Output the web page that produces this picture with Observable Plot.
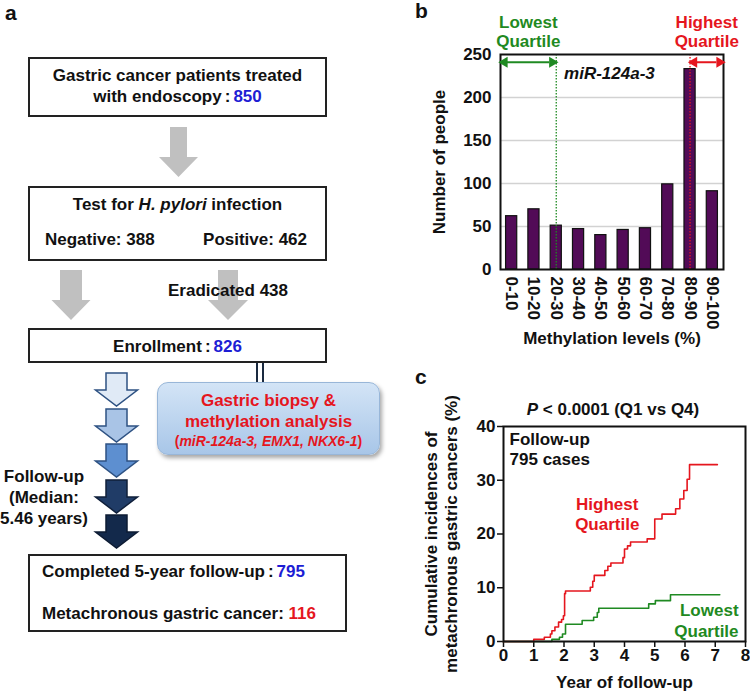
<!DOCTYPE html>
<html><head><meta charset="utf-8">
<script src="https://cdn.jsdelivr.net/npm/d3@7"></script>
<script src="https://cdn.jsdelivr.net/npm/@observablehq/plot@0.6"></script>
<style>
html,body{margin:0;padding:0;background:#fff;}
#root{position:relative;width:750px;height:697px;overflow:hidden;font-family:"Liberation Sans",Arial,sans-serif;font-weight:bold;color:#111;}
.t{position:absolute;white-space:nowrap;font-size:17px;line-height:20px;}
.c{text-align:center;}
.box{position:absolute;box-sizing:border-box;border:2px solid #222;background:#fff;}
.lbl{position:absolute;font-size:21px;line-height:21px;}
.blue{color:#1d1dd4}.red{color:#e5161e}
.rbox{position:absolute;left:157px;top:382px;width:223px;height:73px;box-sizing:border-box;border-radius:11px;
 background:linear-gradient(#d3e4f6,#a8c6e8);border:1px solid #98b6d8;box-shadow:2px 3px 4px rgba(0,0,0,0.35);}
#pb{position:absolute;left:400px;top:0;}
#pc{position:absolute;left:400px;top:370px;}
</style></head><body><div id="root">
<svg id="flow" style="position:absolute;left:0;top:0" width="400" height="697"></svg>

<div class="lbl" style="left:5px;top:2px">a</div>
<div class="lbl" style="left:415px;top:0px">b</div>
<div class="lbl" style="left:415px;top:366px">c</div>

<div class="box" style="left:28px;top:57px;width:299px;height:60px"></div>
<div class="t c" style="left:28px;width:299px;top:66px">Gastric cancer patients treated</div>
<div class="t c" style="left:28px;width:299px;top:87px">with endoscopy<span style="margin:0 3px">:</span><span class="blue">850</span></div>

<div class="box" style="left:28px;top:186px;width:299px;height:75px"></div>
<div class="t c" style="left:28px;width:299px;top:195px">Test for <i>H. pylori</i> infection</div>
<div class="t" style="left:45px;top:230px">Negative: 388</div>
<div class="t" style="right:443px;top:230px">Positive: 462</div>

<div class="t" style="left:168px;top:281px">Eradicated 438</div>

<div class="box" style="left:28px;top:328px;width:299px;height:35px"></div>
<div class="t c" style="left:28px;width:299px;top:337px">Enrollment<span style="margin:0 3px">:</span><span class="blue">826</span></div>

<div class="rbox"></div>
<div class="t c red" style="left:157px;width:223px;top:391px">Gastric biopsy &amp;</div>
<div class="t c red" style="left:157px;width:223px;top:412px">methylation analysis</div>
<div class="t c red" style="left:157px;width:223px;top:432px;font-size:14px;line-height:18px">(<i>miR-124a-3, EMX1, NKX6-1</i>)</div>

<div class="t c" style="left:0;width:88px;top:467px">Follow-up</div>
<div class="t c" style="left:0;width:88px;top:488px">(Median:</div>
<div class="t c" style="left:0;width:88px;top:509px">5.46 years)</div>

<div class="box" style="left:28px;top:554px;width:319px;height:78px"></div>
<div class="t" style="left:42px;top:562px">Completed 5-year follow-up<span style="margin:0 3px">:</span><span class="blue">795</span></div>
<div class="t" style="left:42px;top:604px">Metachronous gastric cancer: <span class="red">116</span></div>

<div id="pb"></div>
<div id="pc"></div>
<div class="t c" style="left:513px;width:200px;top:400px"><i>P</i> &lt; 0.0001 (Q1 vs Q4)</div>
</div>
<script>
// ---------- data ----------
const binLabels = ["0-10","10-20","20-30","30-40","40-50","50-60","60-70","70-80","80-90","90-100"];
const binCounts = [62, 70, 51, 47, 40, 46, 48, 99, 233, 91];
const lowestCut = 25;   // quartile boundary (center of 20-30 bin)
const highestCut = 85;  // quartile boundary (center of 80-90 bin)

const highT = [0, 1.0, 1.35, 1.55, 1.6, 1.7, 1.82, 1.92, 1.98, 2.02, 2.05, 2.87, 2.95, 3.0, 3.35, 3.45, 3.55, 3.95, 4.0, 4.1, 4.2, 4.75, 5.0, 5.24, 5.69, 5.83, 5.96, 6.07, 6.15, 7.07];
const highV = [0, 0.4, 0.8, 1.4, 2.0, 2.7, 3.6, 4.1, 4.8, 8.9, 9.4, 10.1, 11.2, 12.3, 13.2, 14.0, 14.6, 15.6, 17.2, 17.8, 18.5, 19.1, 22.8, 23.7, 24.7, 26.5, 28.1, 30.2, 32.9, 32.9];
const lowT = [0, 1.6, 1.85, 1.95, 2.05, 2.6, 2.98, 3.1, 3.15, 4.8, 5.02, 5.52, 7.15];
const lowV = [0, 0.4, 0.8, 1.4, 3.2, 3.9, 4.5, 5.4, 6.2, 7.0, 7.6, 8.7, 8.7];

const RED = "#e5161e", GREEN = "#1f8a22", PURPLE = "#520b57";
const FONT = "Liberation Sans, Arial, sans-serif";

// ---------- flowchart shapes ----------
const flow = d3.select("#flow");
function downArrow(cx, top, shaftW, headW, headStart, tip) {
  return [[cx - shaftW/2, top],[cx + shaftW/2, top],[cx + shaftW/2, headStart],[cx + headW/2, headStart],
          [cx, tip],[cx - headW/2, headStart],[cx - shaftW/2, headStart]].map(p => p.join(",")).join(" ");
}
const grayArrows = [[178.5,127,17,39,157,177],[71,270,22,39,300,320],[228,270,20,40,300,320]];
grayArrows.forEach(a => flow.append("polygon").attr("points", downArrow(...a)).attr("fill", "#c0c0c0"));
const blueTops = [373, 409, 444, 480, 515];
const blueFills = ["#e0eaf6", "#a9c4e6", "#5d8fd0", "#203c67", "#13294b"];
const blueStrokes = ["#2e5283", "#2e5283", "#2e5283", "#0f1f3a", "#0d1b33"];
blueTops.forEach((t, i) => flow.append("polygon").attr("points", downArrow(116.5, t, 21, 42, t + 17, t + 33))
  .attr("fill", blueFills[i]).attr("stroke", blueStrokes[i]).attr("stroke-width", 1.5).attr("stroke-linejoin", "miter"));
[257, 263].forEach(x => flow.append("line").attr("x1", x).attr("x2", x).attr("y1", 363).attr("y2", 384)
  .attr("stroke", "#1a2a40").attr("stroke-width", 2));

// ---------- panel b ----------
const bins = binLabels.map((label, i) => ({label, lo: i * 10, count: binCounts[i]}));
const quartileArrows = [
  {x1: 0, x2: lowestCut, color: GREEN},
  {x1: highestCut, x2: 100, color: RED}
];
const quartileText = [
  {x: lowestCut / 2, text: "Lowest\nQuartile", color: GREEN},
  {x: (highestCut + 100) / 2, text: "Highest\nQuartile", color: RED}
];
const arrowY = 241;
const pb = Plot.plot({
  width: 350, height: 360,
  marginLeft: 100, marginRight: 27, marginTop: 54, marginBottom: 91,
  style: {fontFamily: FONT, fontSize: "17px", fontWeight: "bold", color: "#111", background: "transparent"},
  x: {domain: [0, 100]},
  y: {domain: [0, 250]},
  marks: [
    Plot.gridY({ticks: [50, 100, 150, 200], stroke: "#d2d2d2", strokeOpacity: 1, strokeWidth: 1.5}),
    Plot.rectY(bins, {x1: d => d.lo + 2.5, x2: d => d.lo + 7.5, y: "count", fill: PURPLE, stroke: "#111", strokeWidth: 1.2}),
    Plot.ruleX([lowestCut], {stroke: GREEN, strokeDasharray: "1.5,1.5", strokeWidth: 1.3}),
    Plot.ruleX([highestCut], {stroke: RED, strokeDasharray: "1.5,1.5", strokeWidth: 1.3}),
    Plot.axisY({ticks: [0, 50, 100, 150, 200, 250], tickSize: 0, tickPadding: 9, label: null, fontSize: 17}),
    Plot.axisX({ticks: bins.map(d => d.lo + 5), tickFormat: d => binLabels[Math.round((d - 5) / 10)],
      tickRotate: 90, tickSize: 0, tickPadding: 7, label: null, fontSize: 17}),
    Plot.frame({stroke: "#111", strokeWidth: 2}),
    Plot.ruleY(quartileArrows, {x1: d => d.x1 + 3, x2: d => d.x2 - 3, y: () => arrowY, stroke: "color", strokeWidth: 2}),
    Plot.dot(quartileArrows, {x: "x1", y: () => arrowY, symbol: "triangle", r: 4, rotate: -90, fill: "color", dx: 4}),
    Plot.dot(quartileArrows, {x: "x2", y: () => arrowY, symbol: "triangle", r: 4, rotate: 90, fill: "color", dx: -4}),
    Plot.text(quartileText, {x: "x", y: () => 277, text: "text", fill: "color", fontSize: 17, lineHeight: 1.12}),
    Plot.text(["miR-124a-3"], {x: () => 28.5, y: () => 228, text: d => d, textAnchor: "start", fontStyle: "italic", fontSize: 17}),
    Plot.text(["Number of people"], {frameAnchor: "left", textAnchor: "middle", rotate: -90, dx: -61, fontSize: 17}),
    Plot.text(["Methylation levels (%)"], {frameAnchor: "bottom", dy: 74, fontSize: 17})
  ]
});
document.getElementById("pb").append(pb);

// ---------- panel c ----------
const high = highT.map((t, i) => ({t, v: highV[i]}));
const low = lowT.map((t, i) => ({t, v: lowV[i]}));
const pc = Plot.plot({
  width: 350, height: 327,
  marginLeft: 103, marginRight: 5, marginTop: 56, marginBottom: 56,
  style: {fontFamily: FONT, fontSize: "17px", fontWeight: "bold", color: "#111", background: "transparent"},
  x: {domain: [0, 8]},
  y: {domain: [0, 40]},
  marks: [
    Plot.axisY({ticks: [0, 10, 20, 30, 40], tickSize: 6, tickPadding: 2, label: null, fontSize: 17, strokeWidth: 1.5}),
    Plot.axisX({ticks: d3.range(0, 9), tickSize: 6, tickPadding: 1, label: null, fontSize: 17, strokeWidth: 1.5}),
    Plot.line(low, {x: "t", y: "v", curve: "step-after", stroke: GREEN, strokeWidth: 1.6}),
    Plot.line(high, {x: "t", y: "v", curve: "step-after", stroke: RED, strokeWidth: 1.6}),
    Plot.frame({stroke: "#111", strokeWidth: 2}),
    Plot.text(["Follow-up\n795 cases"], {x: () => 0.2, y: () => 35.85, text: d => d, textAnchor: "start", fontSize: 17, lineHeight: 1.18}),
    Plot.text(["Highest\nQuartile"], {x: () => 3.43, y: () => 23.8, text: d => d, fill: RED, fontSize: 17, lineHeight: 1.18}),
    Plot.text(["Lowest\nQuartile"], {x: () => 7.77, y: () => 4.05, text: d => d, textAnchor: "end", fill: GREEN, fontSize: 17, lineHeight: 1.22}),
    Plot.text(["Cumulative incidences of\nmetachronous gastric cancers (%)"], {frameAnchor: "left", textAnchor: "middle", rotate: -90, dx: -63, fontSize: 17, lineHeight: 1.2}),
    Plot.text(["Year of follow-up"], {frameAnchor: "bottom", dy: 46, fontSize: 17})
  ]
});
document.getElementById("pc").append(pc);
</script>
</body></html>
